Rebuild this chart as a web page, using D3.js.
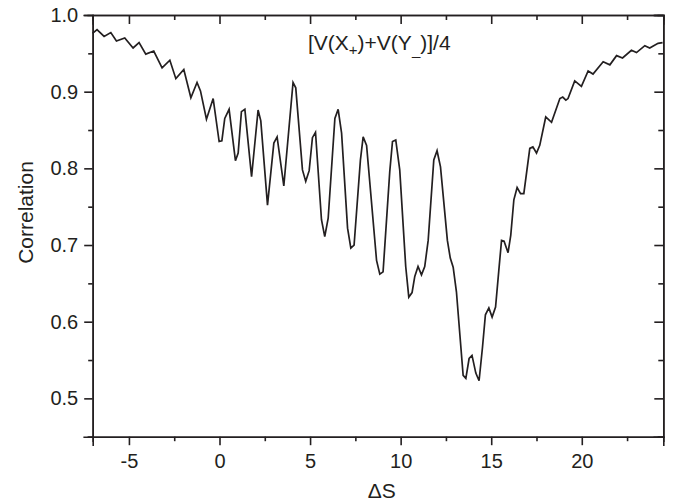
<!DOCTYPE html>
<html>
<head>
<meta charset="utf-8">
<script src="https://cdnjs.cloudflare.com/ajax/libs/d3/7.8.5/d3.min.js"></script>
<style>
  body { margin: 0; background: #fff; }
  text { font-family: Arial, "Liberation Sans", sans-serif; fill: #231f20; }
</style>
</head>
<body>
<div class="corr-plot"></div>
<script>
// correlation vs delta S
const dS = [-7.01, -6.76, -6.37, -6.00, -5.69, -5.23, -4.77, -4.44, -4.07, -3.63,
  -3.17, -2.74, -2.41, -1.97, -1.58, -1.24, -1.05, -0.72, -0.35, -0.02,
  0.13, 0.29, 0.53, 0.88, 1.03, 1.21, 1.40, 1.77, 2.13, 2.28,
  2.65, 3.00, 3.18, 3.55, 4.06, 4.21, 4.58, 4.76, 4.95, 5.13,
  5.30, 5.63, 5.81, 6.00, 6.37, 6.55, 6.74, 7.07, 7.25, 7.43,
  7.78, 7.93, 8.12, 8.67, 8.85, 9.03, 9.40, 9.55, 9.73, 9.95,
  10.28, 10.45, 10.63, 10.78, 10.96, 11.15, 11.33, 11.52, 11.83, 12.01,
  12.20, 12.58, 12.74, 12.90, 13.08, 13.27, 13.45, 13.60, 13.78, 13.94,
  14.15, 14.33, 14.52, 14.68, 14.87, 15.05, 15.24, 15.42, 15.57, 15.71,
  15.93, 16.08, 16.25, 16.43, 16.62, 16.80, 17.13, 17.30, 17.50, 17.68,
  18.01, 18.33, 18.79, 18.95, 19.12, 19.24, 19.61, 19.98, 20.35, 20.62,
  21.18, 21.55, 21.92, 22.25, 22.74, 23.02, 23.48, 23.75, 24.21, 24.46];
const corr = [0.976, 0.981, 0.972, 0.977, 0.966, 0.970, 0.957, 0.964, 0.949, 0.953,
  0.931, 0.941, 0.917, 0.929, 0.892, 0.912, 0.901, 0.864, 0.891, 0.835,
  0.836, 0.865, 0.877, 0.810, 0.820, 0.874, 0.877, 0.789, 0.876, 0.862,
  0.752, 0.833, 0.841, 0.777, 0.912, 0.905, 0.798, 0.783, 0.797, 0.840,
  0.847, 0.733, 0.711, 0.735, 0.865, 0.877, 0.846, 0.722, 0.696, 0.700,
  0.811, 0.841, 0.830, 0.680, 0.662, 0.665, 0.796, 0.835, 0.837, 0.798,
  0.672, 0.632, 0.638, 0.659, 0.672, 0.661, 0.672, 0.706, 0.811, 0.823,
  0.802, 0.706, 0.683, 0.671, 0.639, 0.583, 0.530, 0.526, 0.552, 0.556,
  0.533, 0.523, 0.567, 0.609, 0.618, 0.606, 0.619, 0.667, 0.706, 0.705,
  0.690, 0.713, 0.759, 0.775, 0.767, 0.767, 0.826, 0.828, 0.820, 0.830,
  0.867, 0.860, 0.891, 0.893, 0.889, 0.891, 0.914, 0.907, 0.927, 0.923,
  0.939, 0.935, 0.947, 0.944, 0.954, 0.951, 0.960, 0.957, 0.963, 0.964];

const xMajor = [-5, 0, 5, 10, 15, 20];
const xMinor = [-2.5, 2.5, 7.5, 12.5, 17.5, 22.5];
const yMajor = [0.5, 0.6, 0.7, 0.8, 0.9, 1.0];
const yMinor = [0.45, 0.55, 0.65, 0.75, 0.85, 0.95];

const data = dS.map((d, i) => ({x: d, y: corr[i]}));
console.log('points', data.length);

const width = 676;
const height = 504;
const margin = {top: 15, right: 12.7, bottom: 67.3, left: 92.7};

const svg = d3.select('.corr-plot')
  .append('svg')
  .attr('width', width)
  .attr('height', height);

const x = d3.scaleLinear().domain([-7, 24.5]).range([margin.left, width - margin.right]);
const y = d3.scaleLinear().domain([0.45, 1.0]).range([height - margin.bottom, margin.top]);

const fmtY = d3.format('.1f');
const fmtX = d => String(d);   // plain hyphen like the original

function styleAxis(g) {
  g.selectAll('path').attr('stroke', '#231f20').attr('stroke-width', 1.6);
  g.selectAll('line').attr('stroke', '#231f20').attr('stroke-width', 1.6);
  g.selectAll('text').attr('font-size', 20).attr('fill', '#231f20')
    .attr('font-family', 'Arial, "Liberation Sans", sans-serif');
}

// bottom + left, ticks outward
svg.append('g')
  .attr('transform', `translate(0,${height - margin.bottom})`)
  .call(d3.axisBottom(x).tickValues(xMajor).tickSize(8.5).tickPadding(9).tickFormat(fmtX))
  .call(styleAxis);
svg.append('g')
  .attr('transform', `translate(0,${height - margin.bottom})`)
  .call(d3.axisBottom(x).tickValues(xMinor).tickSize(4.5).tickFormat(''))
  .call(styleAxis);
svg.append('g')
  .attr('transform', `translate(${margin.left},0)`)
  .call(d3.axisLeft(y).tickValues(yMajor).tickSize(8.5).tickPadding(6).tickFormat(fmtY))
  .call(styleAxis);
svg.append('g')
  .attr('transform', `translate(${margin.left},0)`)
  .call(d3.axisLeft(y).tickValues(yMinor).tickSize(4.5).tickFormat(''))
  .call(styleAxis);

// top + right mirror, ticks inward
svg.append('g')
  .attr('transform', `translate(0,${margin.top})`)
  .call(d3.axisTop(x).tickValues(xMajor).tickSize(-9).tickFormat(''))
  .call(styleAxis);
svg.append('g')
  .attr('transform', `translate(0,${margin.top})`)
  .call(d3.axisTop(x).tickValues(xMinor).tickSize(-5).tickFormat(''))
  .call(styleAxis);
svg.append('g')
  .attr('transform', `translate(${width - margin.right},0)`)
  .call(d3.axisRight(y).tickValues(yMajor).tickSize(-9).tickFormat(''))
  .call(styleAxis);
svg.append('g')
  .attr('transform', `translate(${width - margin.right},0)`)
  .call(d3.axisRight(y).tickValues(yMinor).tickSize(-5).tickFormat(''))
  .call(styleAxis);

svg.selectAll('.domain').attr('stroke-linecap', 'square');

// the curve
const line = d3.line().x(d => x(d.x)).y(d => y(d.y));
svg.append('path')
  .datum(data)
  .attr('d', line)
  .attr('fill', 'none')
  .attr('stroke', '#231f20')
  .attr('stroke-width', 1.7)
  .attr('stroke-linejoin', 'miter');

// axis titles
svg.append('text')
  .attr('x', 381.7)
  .attr('y', 498)
  .attr('text-anchor', 'middle')
  .attr('font-size', 21)
  .text('\u0394S');

svg.append('text')
  .attr('transform', 'translate(33,212.5) rotate(-90)')
  .attr('text-anchor', 'middle')
  .attr('font-size', 21)
  .text('Correlation');

// curve label
const lab = svg.append('text')
  .attr('x', 308)
  .attr('y', 50)
  .attr('font-size', 21);
lab.append('tspan').text('[V(X');
lab.append('tspan').attr('font-size', 15).attr('dy', 5).text('+');
lab.append('tspan').attr('dy', -5).text(')+V(Y');
lab.append('tspan').attr('font-size', 15).attr('dy', 5).text('_');
lab.append('tspan').attr('dy', -5).text(')]/4');
</script>
</body>
</html>
